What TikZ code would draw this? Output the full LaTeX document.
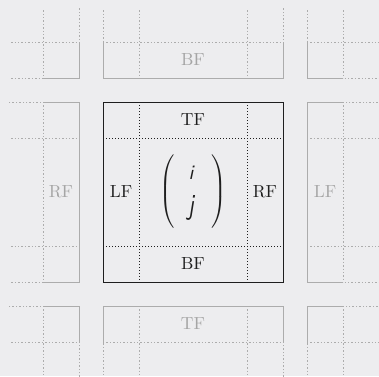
\documentclass[tikz,border=0pt]{standalone}
\usepackage{xcolor}
\definecolor{bg}{RGB}{237,237,239}
\definecolor{ghost}{RGB}{172,172,172}
\definecolor{ghosttext}{RGB}{165,165,165}
\definecolor{ink}{RGB}{30,30,30}
\begin{document}
\begin{tikzpicture}[x=1pt,y=-1pt,
  lab/.style={scale=1.75, inner sep=0pt, text=ink},
  ghostlab/.style={scale=1.75, inner sep=0pt, text=ghosttext},
  vecent/.style={inner sep=0pt, text=ink, font=\sffamily\itshape},
  ghostdot/.style={draw=ghost, line width=0.8pt, dash pattern=on 1.4pt off 2pt},
  ghostsolid/.style={draw=ghost, line width=1pt},
  mainbox/.style={draw=ink, line width=1pt},
  maindot/.style={draw=ink, line width=0.9pt, dash pattern=on 1pt off 2pt}]
\fill[bg] (0,0) rectangle (379,376);
\useasboundingbox (0,0) rectangle (379,376);
% neighbour cells, dotted outlines and inner lines
\begin{scope}
  \clip (9,8) rectangle (379,376);
  \foreach \i/\j in {-1/-1,0/-1,1/-1,-1/0,1/0,-1/1,0/1,1/1}{
    \pgfmathsetmacro\xo{103+204*\i}
    \pgfmathsetmacro\yo{102+204*\j}
    \draw[ghostdot] (\xo,\yo) rectangle ++(180,180);
    \draw[ghostdot] ({\xo+36},\yo) -- ++(0,180);
    \draw[ghostdot] ({\xo+144},\yo) -- ++(0,180);
    \draw[ghostdot] (\xo,{\yo+36}) -- ++(180,0);
    \draw[ghostdot] (\xo,{\yo+144}) -- ++(180,0);
  }
\end{scope}
% neighbour cells, solid borders near the centre face
\begin{scope}
  \clip (43,42) rectangle (343,342);
  \foreach \i/\j in {-1/-1,0/-1,1/-1,-1/0,1/0,-1/1,0/1,1/1}{
    \pgfmathsetmacro\xo{103+204*\i}
    \pgfmathsetmacro\yo{102+204*\j}
    \draw[ghostsolid] (\xo,\yo) rectangle ++(180,180);
  }
\end{scope}
% centre face
\node[mainbox, minimum size=180pt, inner sep=0pt, outer sep=0pt] (face) at (193,192) {};
\draw[maindot] (139,102) -- (139,282);
\draw[maindot] (247,102) -- (247,282);
\draw[maindot] (103,138) -- (283,138);
\draw[maindot] (103,246) -- (283,246);
% labels
\node[lab] (tf) at (193,120) {TF};
\node[lab] (lf) at (121,192) {LF};
\node[lab] (rf) at (265,192) {RF};
\node[lab] (bf) at (193,264) {BF};
\node[ghostlab] (gbf) at (193,60) {BF};
\node[ghostlab] (grf) at (61,192) {RF};
\node[ghostlab] (glf) at (325,192) {LF};
\node[ghostlab] (gtf) at (193,324) {TF};
% vector (i, j)
\node[vecent, scale=2.05] (mi) at (191,173) {i};
\node[vecent, xscale=2.2, yscale=2.9] (mj) at (191,208) {j};
\node[lab] (lp) at (168,192) {$\left(\vcenter{\hbox{\rule{0pt}{42pt}}}\right.$};
\node[lab] (rp) at (218,192) {$\left.\vcenter{\hbox{\rule{0pt}{42pt}}}\right)$};
\end{tikzpicture}
\end{document}
